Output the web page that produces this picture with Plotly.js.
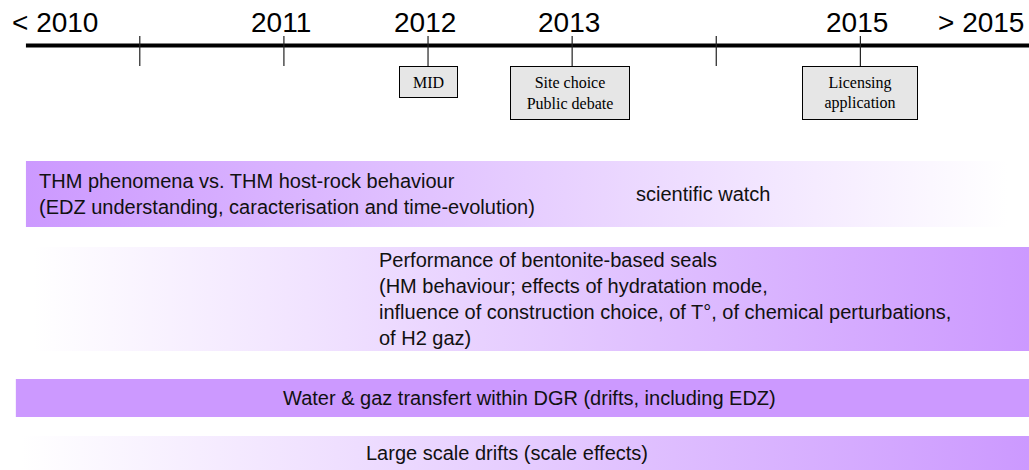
<!DOCTYPE html>
<html>
<head>
<meta charset="utf-8">
<script src="https://cdn.plot.ly/plotly-3.0.1.min.js"></script>
<style>
  html, body { margin: 0; padding: 0; background: #ffffff; }
  #chart { width: 1029px; height: 470px; }
</style>
</head>
<body>
<div id="chart"></div>
<script>
// ---------- data ----------
const tickYears = [2010, 2011, 2012, 2013, 2014, 2015];
const labelYears = [2009.41, 2011, 2012, 2013, 2015, 2015.84];
const labelTexts = ['< 2010', '2011', '2012', '2013', '2015', '> 2015'];

const milestoneYears = [2012, 2013, 2015];
const milestoneTexts = ['MID', 'Site choice<br>Public debate', 'Licensing<br>application'];

const barTexts = [
  'THM phenomena vs. THM host-rock behaviour<br>(EDZ understanding, caracterisation and time-evolution)',
  'Performance of bentonite-based seals<br>(HM behaviour; effects of hydratation mode,<br>influence of construction choice, of T°, of chemical perturbations,<br>of H2 gaz)',
  'Water & gaz transfert within DGR (drifts, including EDZ)',
  'Large scale drifts (scale effects)'
];
const barStart = [2009.21, 2009.26, 2009.14, 2009.18];
const barEnd = [2016.02, 2016.20, 2016.20, 2016.20];
const barTop = [161, 247, 379, 436];
const barBottom = [227, 351, 417, 474];
const barTrend = ['fade-out', 'fade-in', 'solid', 'fade-in'];

const sideNoteText = 'scientific watch';
const sideNoteYear = 2013.91;

// ---------- styling / layout ----------
const X_RANGE = [2009.03, 2016.17];
const PURPLE = '#CC99FF';
const WHITE = '#FFFFFF';
const TEXT = '#111111';
const SANS = 'Liberation Sans, Arial, sans-serif';
const SERIF = 'Liberation Serif, Times New Roman, serif';

const traces = [];
const annotations = [];
const shapes = [];

// bars
for (let i = 0; i < barTexts.length; i++) {
  const x0 = barStart[i], x1 = barEnd[i];
  const t = barTop[i], b = barBottom[i];
  const tr = {
    type: 'scatter', mode: 'lines',
    x: [x0, x1, x1, x0, x0],
    y: [t, t, b, b, t],
    fill: 'toself',
    line: { width: 0, color: 'rgba(0,0,0,0)' },
    hoverinfo: 'skip', showlegend: false
  };
  if (barTrend[i] === 'solid') {
    tr.fillcolor = PURPLE;
  } else {
    tr.fillgradient = {
      type: 'horizontal',
      start: x0, stop: Math.min(x1, X_RANGE[1]),
      colorscale: barTrend[i] === 'fade-out'
        ? [[0, PURPLE], [1, WHITE]]
        : [[0, WHITE], [1, PURPLE]]
    };
  }
  traces.push(tr);
}

// bar labels (layout placement per bar)
const barLabelPos = [
  { x: 2009.308, xanchor: 'left', align: 'left', xshift: -3 },
  { x: 2011.667, xanchor: 'left', align: 'left', xshift: -3 },
  { x: 2012.707, xanchor: 'center', align: 'center', xshift: 0 },
  { x: 2012.548, xanchor: 'center', align: 'center', xshift: 0 }
];
for (let i = 0; i < barTexts.length; i++) {
  const p = barLabelPos[i];
  annotations.push({
    x: p.x, y: (barTop[i] + Math.min(barBottom[i], 470)) / 2,
    xref: 'x', yref: 'y', xshift: p.xshift,
    text: barTexts[i], showarrow: false,
    xanchor: p.xanchor, yanchor: 'middle', align: p.align,
    font: { family: SANS, size: 20, color: TEXT }
  });
}
annotations.push({
  x: sideNoteYear, y: (barTop[0] + barBottom[0]) / 2,
  xref: 'x', yref: 'y', text: sideNoteText, showarrow: false,
  xanchor: 'center', yanchor: 'middle',
  font: { family: SANS, size: 20, color: TEXT }
});

// timeline axis line
shapes.push({
  type: 'line', xref: 'x', yref: 'y',
  x0: 2009.21, x1: X_RANGE[1], y0: 45.5, y1: 45.5,
  line: { color: '#000000', width: 4 }
});
// tick marks
tickYears.forEach(yr => {
  shapes.push({
    type: 'line', xref: 'x', yref: 'y',
    x0: yr, x1: yr, y0: 36, y1: 66,
    line: { color: '#222222', width: 1.2 }
  });
});
// year labels
labelYears.forEach((yr, i) => {
  annotations.push({
    x: yr, y: 22.5, xref: 'x', yref: 'y',
    text: labelTexts[i], showarrow: false,
    xanchor: 'center', yanchor: 'middle', xshift: (i === 0 || i === 5) ? 0 : -3,
    font: { family: SANS, size: 28, color: '#000000' }
  });
});
// milestone boxes
const boxSize = [[55, 28], [116, 50], [112, 50]];
milestoneYears.forEach((yr, i) => {
  annotations.push({
    x: yr, y: 65.5, xref: 'x', yref: 'y',
    text: milestoneTexts[i], showarrow: false,
    xanchor: 'center', yanchor: 'top', align: 'center', valign: 'middle',
    xshift: i === 1 ? -2 : 0,
    width: boxSize[i][0], height: boxSize[i][1],
    bgcolor: '#E6E6E6', bordercolor: '#000000', borderwidth: 1, borderpad: 1,
    font: { family: SERIF, size: 16, color: '#000000' }
  });
});

const layout = {
  width: 1029, height: 470,
  margin: { l: 0, r: 0, t: 0, b: 0, pad: 0 },
  paper_bgcolor: '#ffffff', plot_bgcolor: '#ffffff',
  showlegend: false, hovermode: false,
  xaxis: { range: X_RANGE, visible: false, fixedrange: true },
  yaxis: { range: [470, 0], visible: false, fixedrange: true },
  shapes: shapes,
  annotations: annotations
};

Plotly.newPlot('chart', traces, layout, { displayModeBar: false, staticPlot: true });
</script>
</body>
</html>
